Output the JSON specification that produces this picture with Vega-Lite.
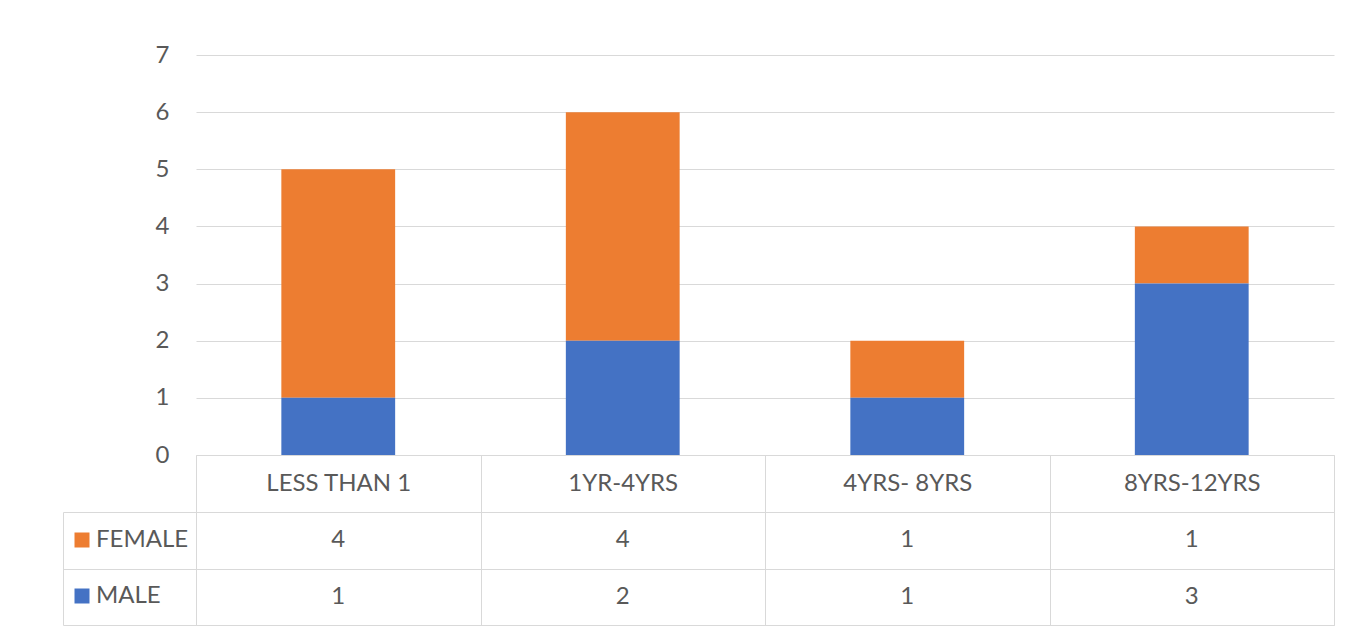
{
  "$schema": "https://vega.github.io/schema/vega-lite/v6.json",
  "autosize": {"type": "none"},
  "padding": {"left": 196, "top": 55, "right": 1160, "bottom": 581},
  "background": "white",
  "data": {"values": [
    {"period": "LESS THAN 1", "sex": "FEMALE", "count": 4},
    {"period": "LESS THAN 1", "sex": "MALE", "count": 1},
    {"period": "1YR-4YRS", "sex": "FEMALE", "count": 4},
    {"period": "1YR-4YRS", "sex": "MALE", "count": 2},
    {"period": "4YRS- 8YRS", "sex": "FEMALE", "count": 1},
    {"period": "4YRS- 8YRS", "sex": "MALE", "count": 1},
    {"period": "8YRS-12YRS", "sex": "FEMALE", "count": 1},
    {"period": "8YRS-12YRS", "sex": "MALE", "count": 3}
  ]},
  "config": {
    "font": "Lato",
    "axis": {"labelFont": "Lato", "labelColor": "#595959", "labelFontSize": 24},
    "view": {"stroke": null}
  },
  "spacing": 57,
  "bounds": "flush",
  "resolve": {"scale": {"x": "independent", "y": "independent"}},
  "vconcat": [
    {
      "width": 1138,
      "height": 400,
      "mark": {"type": "bar", "width": {"band": 0.4}},
      "encoding": {
        "x": {"field": "period", "type": "nominal",
              "sort": ["LESS THAN 1", "1YR-4YRS", "4YRS- 8YRS", "8YRS-12YRS"],
              "scale": {"paddingInner": 0, "paddingOuter": 0},
              "axis": {"title": null, "labelAngle": 0, "domain": true, "domainColor": "#d9d9d9",
                       "ticks": true, "tickBand": "extent", "tickSize": 57, "tickColor": "#d9d9d9",
                       "labelPadding": -29, "labelBaseline": "middle", "grid": false}},
        "y": {"field": "count", "type": "quantitative",
              "scale": {"domain": [0, 7], "nice": false},
              "axis": {"title": null, "values": [0, 1, 2, 3, 4, 5, 6, 7], "domain": false, "ticks": false,
                       "labelPadding": 27, "grid": true, "gridColor": "#d9d9d9"}},
        "color": {"field": "sex", "type": "nominal",
                  "scale": {"domain": ["FEMALE", "MALE"], "range": ["#ED7D31", "#4472C4"]},
                  "legend": {"orient": "none", "legendX": -126, "legendY": 473, "title": null,
                             "symbolType": "square", "symbolSize": 225, "symbolStrokeWidth": 0,
                             "labelFontSize": 24, "labelFont": "Lato", "labelColor": "#595959",
                             "labelOffset": 2, "rowPadding": 32, "padding": 0, "direction": "vertical"}},
        "order": {"field": "sex", "sort": "descending"}
      }
    },
    {
      "width": 1138,
      "height": 113,
      "view": {"stroke": "#d9d9d9"},
      "mark": {"type": "text", "font": "Lato", "fontSize": 24, "color": "#595959"},
      "encoding": {
        "x": {"field": "period", "type": "nominal",
              "sort": ["LESS THAN 1", "1YR-4YRS", "4YRS- 8YRS", "8YRS-12YRS"],
              "scale": {"paddingInner": 0, "paddingOuter": 0},
              "axis": {"title": null, "labels": false, "ticks": false, "domain": false,
                       "grid": true, "tickBand": "extent", "gridColor": "#d9d9d9"}},
        "y": {"field": "sex", "type": "nominal",
              "scale": {"domain": ["FEMALE", "MALE"], "paddingInner": 0, "paddingOuter": 0},
              "axis": {"title": null, "labels": false, "offset": 133, "domain": true, "domainColor": "#d9d9d9",
                       "ticks": true, "tickSize": -133, "tickColor": "#d9d9d9", "tickBand": "extent",
                       "grid": true, "gridColor": "#d9d9d9"}},
        "text": {"field": "count", "type": "quantitative"}
      }
    }
  ]
}
